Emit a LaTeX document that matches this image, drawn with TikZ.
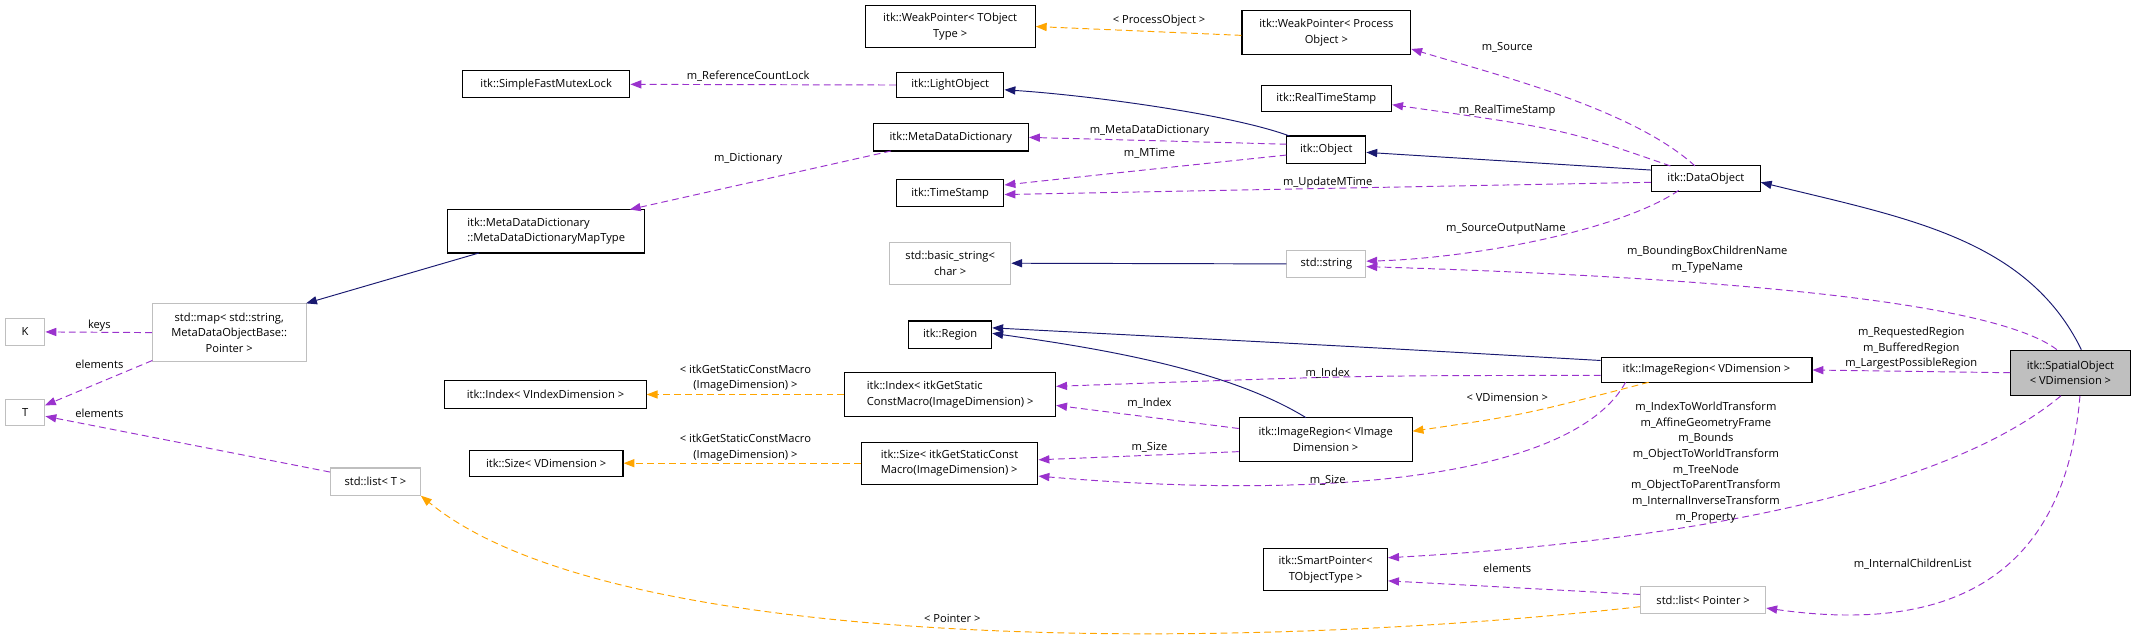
\documentclass[tikz,border=0pt]{standalone}
\usepackage{fontspec}
\setmainfont{Open Sans}
\usetikzlibrary{arrows.meta}
\definecolor{pur}{HTML}{9A32CD}
\definecolor{nav}{HTML}{191970}
\definecolor{org}{HTML}{FFA500}
\definecolor{gbd}{HTML}{BFBFBF}
\begin{document}
\begin{tikzpicture}[x=1pt,y=-1pt,
  font=\fontsize{8.2}{11.5}\selectfont,
  box/.style={draw=black,line width=0.8pt,fill=white,align=center,inner sep=1pt},
  gbox/.style={box,draw=gbd},
  tip/.style={-{Triangle[length=8pt,width=6pt]}},
  pe/.style={tip,draw=pur,dashed,dash pattern=on 5pt off 3pt,line width=0.7pt},
  oe/.style={tip,draw=org,dashed,dash pattern=on 5pt off 3pt,line width=0.7pt},
  ne/.style={tip,draw=nav,line width=0.7pt},
  lb/.style={font=\fontsize{8.2}{11.5}\selectfont,align=center,inner sep=0pt}]
\useasboundingbox (0,0) rectangle (1568,468);
% nodes
\node[box,minimum width=125pt,minimum height=31pt] (wpT) at (698.5,19.5) {itk::WeakPointer< TObject\\Type >};
\node[box,minimum width=124pt,minimum height=32pt] (wpP) at (975,24) {itk::WeakPointer< Process\\Object >};
\node[box,minimum width=123pt,minimum height=20pt] (sfml) at (401.5,62) {itk::SimpleFastMutexLock};
\node[box,minimum width=79pt,minimum height=19pt] (light) at (698.5,62.5) {itk::LightObject};
\node[box,minimum width=96pt,minimum height=19pt] (rts) at (975,72.5) {itk::RealTimeStamp};
\node[box,minimum width=114pt,minimum height=20pt] (mdd) at (699,101) {itk::MetaDataDictionary};
\node[box,minimum width=58pt,minimum height=20pt] (obj) at (975,110) {itk::Object};
\node[box,minimum width=79pt,minimum height=20pt] (ts) at (698.5,142) {itk::TimeStamp};
\node[box,minimum width=80pt,minimum height=19pt] (dobj) at (1254,131) {itk::DataObject};
\node[box,minimum width=145pt,minimum height=32pt,align=left] (maptype) at (401.5,170) {itk::MetaDataDictionary\\::MetaDataDictionaryMapType};
\node[gbox,minimum width=89pt,minimum height=31pt] (bstr) at (698.5,193.5) {std::basic\_string<\\char >};
\node[gbox,minimum width=58pt,minimum height=20pt] (str) at (975,194) {std::string};
\node[gbox,minimum width=29pt,minimum height=20pt] (K) at (18.5,244) {K};
\node[gbox,minimum width=113pt,minimum height=43pt] (map) at (168.5,244.5) {std::map< std::string,\\MetaDataObjectBase::\\Pointer >};
\node[gbox,minimum width=29pt,minimum height=19pt] (T) at (18.5,303.5) {T};
\node[box,minimum width=61pt,minimum height=20pt] (region) at (698.5,246) {itk::Region};
\node[box,minimum width=155pt,minimum height=19pt] (imgreg) at (1254.5,272) {itk::ImageRegion< VDimension >};
\node[box,fill=gbd,minimum width=88pt,minimum height=33pt] (spatial) at (1522,274) {itk::SpatialObject\\< VDimension >};
\node[box,minimum width=148pt,minimum height=20pt] (idxV) at (401,290) {itk::Index< VIndexDimension >};
\node[box,minimum width=155pt,minimum height=32pt,align=left] (idxG) at (698.5,290) {itk::Index< itkGetStatic\\ConstMacro(ImageDimension) >};
\node[box,minimum width=113pt,minimum height=19pt] (sizeV) at (401.5,340.5) {itk::Size< VDimension >};
\node[box,minimum width=130pt,minimum height=31pt,align=left] (sizeG) at (698,340.5) {itk::Size< itkGetStaticConst\\Macro(ImageDimension) >};
\node[box,minimum width=127pt,minimum height=32pt] (imgregV) at (974.5,323) {itk::ImageRegion< VImage\\Dimension >};
\node[gbox,minimum width=66pt,minimum height=20pt] (listT) at (276,354) {std::list< T >};
\node[box,minimum width=91pt,minimum height=31pt] (smart) at (974.5,418.5) {itk::SmartPointer<\\TObjectType >};
\node[gbox,minimum width=92pt,minimum height=20pt] (listP) at (1252,441) {std::list< Pointer >};
% edges
\draw[pe] (light.west) -- (sfml.east);
\node[lb] (l1) at (550,56) {m\_ReferenceCountLock};
\draw[oe] (wpP.west |- 0,26) -- (wpT.east);
\node[lb] (l2) at (852,15) {< ProcessObject >};
\draw[ne] (948,100) .. controls (905,84) and (800,70) .. (light.east |- 0,66);
\draw[pe] (obj.west |- 0,106) -- (mdd.east);
\node[lb] (l4) at (845,96) {m\_MetaDataDictionary};
\draw[pe] (obj.west |- 0,114) .. controls (850,124) .. (ts.east |- 0,136);
\node[lb] (l5) at (845,113) {m\_MTime};
\draw[ne] (dobj.west |- 0,125) -- (obj.east |- 0,112);
\draw[pe] (1228,122) .. controls (1150,95) .. (rts.east |- 0,77);
\node[lb] (l7) at (1108,81) {m\_RealTimeStamp};
\draw[pe] (1246,122) .. controls (1200,80) and (1100,55) .. (wpP.east |- 0,36);
\node[lb] (l8) at (1108,35) {m\_Source};
\draw[pe] (dobj.west |- 0,134) .. controls (1000,138) .. (ts.east |- 0,143);
\node[lb] (l9) at (976,134) {m\_UpdateMTime};
\draw[pe] (655,111) -- (463,154);
\node[lb] (l10) at (550,117) {m\_Dictionary};
\draw[ne] (352,186) -- (225,223);
\draw[pe] (map.west) -- (K.east);
\node[lb] (l12) at (73,239) {keys};
\draw[pe] (112,265) -- (33,298);
\node[lb] (l13) at (73,268) {elements};
\draw[pe] (listT.west |- 0,347) -- (T.east |- 0,306);
\node[lb] (l14) at (73,304) {elements};
\draw[pe] (1234,140) .. controls (1190,170) and (1080,190) .. (str.east |- 0,192);
\node[lb] (l15) at (1107,168) {m\_SourceOutputName};
\draw[ne] (str.west) -- (bstr.east);
\draw[pe] (1512,257) .. controls (1470,225) and (1300,205) .. (str.east |- 0,196);
\node[lb] (l17) at (1255,191) {m\_BoundingBoxChildrenName\\m\_TypeName};
\draw[ne] (imgreg.west |- 0,265) .. controls (1000,255) .. (region.east |- 0,241);
\draw[ne] (960,307) .. controls (900,270) and (800,255) .. (region.east |- 0,245);
\draw[pe] (imgreg.west |- 0,276) .. controls (1000,276) .. (idxG.east |- 0,284);
\node[lb] (l20) at (976,274) {m\_Index};
\draw[pe] (imgregV.west |- 0,315) -- (idxG.east |- 0,298);
\node[lb] (l21) at (845,296) {m\_Index};
\draw[pe] (imgregV.west |- 0,332) -- (sizeG.east |- 0,338);
\node[lb] (l22) at (845,329) {m\_Size};
\draw[pe] (1195,281) .. controls (1160,345) and (1000,370) .. (sizeG.east |- 0,350);
\node[lb] (l23) at (976,353) {m\_Size};
\draw[oe] (idxG.west) -- (idxV.east);
\node[lb] (l24) at (548,278) {< itkGetStaticConstMacro\\(ImageDimension) >};
\draw[oe] (sizeG.west) -- (sizeV.east);
\node[lb] (l25) at (548,329) {< itkGetStaticConstMacro\\(ImageDimension) >};
\draw[oe] (1212,281) .. controls (1120,305) .. (imgregV.east |- 0,317);
\node[lb] (l26) at (1108,292) {< VDimension >};
\draw[ne] (1530,257) .. controls (1490,175) and (1400,160) .. (dobj.east |- 0,134);
\draw[pe] (spatial.west) -- (imgreg.east);
\node[lb] (l28) at (1405,256) {m\_RequestedRegion\\m\_BufferedRegion\\m\_LargestPossibleRegion};
\draw[pe] (1515,291) .. controls (1420,370) and (1200,400) .. (smart.east |- 0,410);
\node[lb] (l29) at (1254,340) {m\_IndexToWorldTransform\\m\_AffineGeometryFrame\\m\_Bounds\\m\_ObjectToWorldTransform\\m\_TreeNode\\m\_ObjectToParentTransform\\m\_InternalInverseTransform\\m\_Property};
\draw[pe] (1529,291) .. controls (1520,400) and (1460,470) .. (listP.east |- 0,447);
\node[lb] (l30) at (1406,415) {m\_InternalChildrenList};
\draw[pe] (listP.west |- 0,437) -- (smart.east |- 0,427);
\node[lb] (l31) at (1108,418) {elements};
\draw[oe] (listP.west |- 0,446) .. controls (900,480) and (450,480) .. (listT.south east);
\node[lb] (l32) at (700,455) {< Pointer >};
\end{tikzpicture}
\end{document}
